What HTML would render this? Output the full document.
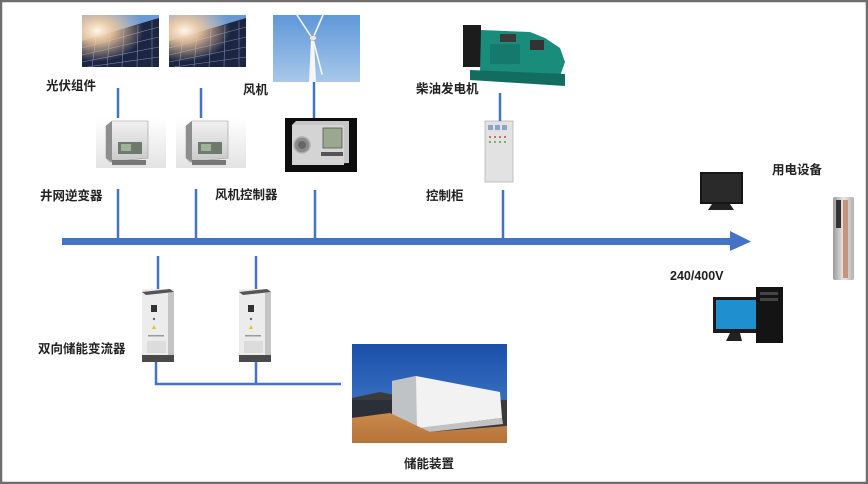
<!DOCTYPE html>
<html><head><meta charset="utf-8"><style>
html,body{margin:0;padding:0;background:#fff;}
#c{position:relative;width:868px;height:484px;overflow:hidden;background:#fff;}
svg text{font-family:"Liberation Sans","Noto Sans CJK SC",sans-serif;font-weight:bold;font-size:12.5px;fill:#222;}
</style></head><body><div id="c">
<svg width="868" height="484" viewBox="0 0 868 484" xmlns="http://www.w3.org/2000/svg">
<defs>
<radialGradient id="sun" cx="0.2" cy="0.3" r="0.6"><stop offset="0" stop-color="#fff6e6"/><stop offset="0.35" stop-color="#f0c9a0" stop-opacity="0.9"/><stop offset="1" stop-color="#f0c9a0" stop-opacity="0"/></radialGradient>
<linearGradient id="sky" x1="0" y1="0" x2="0" y2="1"><stop offset="0" stop-color="#5f97d8"/><stop offset="1" stop-color="#a8c8ea"/></linearGradient>
<linearGradient id="sky2" x1="0" y1="0" x2="0" y2="1"><stop offset="0" stop-color="#1b4fa8"/><stop offset="1" stop-color="#4a86d2"/></linearGradient>
<linearGradient id="ground" x1="0" y1="0" x2="0" y2="1"><stop offset="0" stop-color="#c98a4c"/><stop offset="1" stop-color="#b5733a"/></linearGradient>
<linearGradient id="inv" x1="0" y1="0" x2="0" y2="1"><stop offset="0" stop-color="#f2f2f2"/><stop offset="1" stop-color="#c8c8c8"/></linearGradient>
<linearGradient id="shadow" x1="0" y1="0" x2="0" y2="1"><stop offset="0" stop-color="#fff"/><stop offset="1" stop-color="#e3e3e3"/></linearGradient>
<linearGradient id="ac" x1="0" y1="0" x2="1" y2="0"><stop offset="0" stop-color="#9a9a9a"/><stop offset="0.5" stop-color="#e8e8e8"/><stop offset="1" stop-color="#b0b0b0"/></linearGradient>
<g id="solar">
<rect x="0" y="0" width="77" height="52" fill="#6a9ad6"/>
<polygon points="0,26 77,3 77,52 0,52" fill="#1c2643"/>
<g stroke="#8fa0c8" stroke-width="0.6" opacity="0.8">
<line x1="0" y1="33" x2="77" y2="12"/><line x1="0" y1="40" x2="77" y2="22"/><line x1="0" y1="47" x2="77" y2="32"/><line x1="5" y1="52" x2="77" y2="42"/>
<line x1="14" y1="22" x2="10" y2="52"/><line x1="28" y1="18" x2="25" y2="52"/><line x1="42" y1="14" x2="40" y2="52"/><line x1="56" y1="10" x2="55" y2="52"/><line x1="70" y1="6" x2="70" y2="52"/>
</g>
<rect x="0" y="0" width="77" height="52" fill="url(#sun)"/>
</g>
<g id="inverter">
<rect x="0" y="0" width="70" height="50" fill="url(#shadow)"/>
<polygon points="10,8 16,3 52,3 52,40 14,44 10,40" fill="url(#inv)" stroke="#9a9a9a" stroke-width="0.6"/>
<polygon points="10,8 16,3 16,44 10,40" fill="#8e8e8e"/>
<rect x="22" y="24" width="24" height="12" fill="#6e7a70"/>
<rect x="25" y="26" width="10" height="7" fill="#9fb59a"/>
<rect x="16" y="42" width="34" height="5" fill="#777"/>
</g>
<g id="pcs">
<rect x="0" y="0" width="32" height="73" fill="#ececec"/>
<polygon points="0,3 28,0 32,3 4,6" fill="#555"/>
<polygon points="26,4 32,3 32,66 26,70" fill="#c4c4c4"/>
<rect x="0" y="66" width="32" height="7" fill="#4a4a4a"/>
<rect x="9" y="16" width="6" height="7" fill="#333"/>
<circle cx="12" cy="30" r="1.2" fill="#666"/>
<polygon points="12,36 14,40 10,40" fill="#e8c020"/>
<rect x="6" y="46" width="16" height="1.5" fill="#999"/>
<rect x="5" y="52" width="19" height="12" fill="#dcdcdc"/>
</g>
</defs>

<!-- frame -->
<rect x="1" y="1" width="866" height="482" fill="none" stroke="#6e6e6e" stroke-width="2.5"/>

<!-- solar panels -->
<use href="#solar" x="82" y="15"/>
<use href="#solar" x="169" y="15"/>

<!-- wind turbine -->
<rect x="273" y="15" width="87" height="67" fill="url(#sky)"/>
<polygon points="311,39 314,39 316,82 309,82" fill="#f4f6f8"/>
<g stroke="#f4f6f8" stroke-width="1.6" stroke-linecap="round">
<line x1="312" y1="38" x2="297" y2="15"/>
<line x1="313" y1="38" x2="323" y2="15"/>
<line x1="313" y1="39" x2="322" y2="74"/>
</g>
<ellipse cx="313" cy="38" rx="3.5" ry="2.5" fill="#e8e8e8" stroke="#999" stroke-width="0.5"/>

<!-- inverters -->
<use href="#inverter" x="96" y="118"/>
<use href="#inverter" x="176" y="118"/>

<!-- wind controller -->
<rect x="285" y="118" width="72" height="54" fill="#0d0d0d"/>
<polygon points="292,125 296,121 349,121 349,163 292,165" fill="#c6c6c6"/>
<rect x="292" y="125" width="52" height="40" fill="#d4d4d4"/>
<circle cx="302" cy="145" r="8" fill="#8a8a8a" stroke="#b0b0b0" stroke-width="1.5"/>
<circle cx="302" cy="145" r="4" fill="#666"/>
<rect x="323" y="128" width="19" height="20" fill="#9aa890" stroke="#555" stroke-width="0.8"/>
<rect x="321" y="152" width="22" height="4" fill="#555"/>

<!-- generator -->
<rect x="463" y="25" width="18" height="42" fill="#1c1c1c"/>
<polygon points="481,30 530,32 545,38 560,48 565,62 560,76 480,72" fill="#1a8c7b"/>
<rect x="500" y="34" width="16" height="8" fill="#3a3a3a"/>
<rect x="530" y="40" width="14" height="10" fill="#333"/>
<polygon points="470,70 565,74 565,86 470,80" fill="#126d60"/>
<rect x="490" y="44" width="30" height="20" fill="#157a6c"/>

<!-- control cabinet -->
<rect x="485" y="121" width="28" height="61" fill="#e2e2e2" stroke="#b5b5b5" stroke-width="0.8"/>
<rect x="488" y="125" width="5" height="5" fill="#8aa3c8"/>
<rect x="495" y="125" width="5" height="5" fill="#8aa3c8"/>
<rect x="502" y="125" width="5" height="5" fill="#8aa3c8"/>
<g fill="#c44"><circle cx="490" cy="137" r="1"/><circle cx="495" cy="137" r="1"/><circle cx="500" cy="137" r="1"/><circle cx="505" cy="137" r="1"/></g>
<g fill="#4a4"><circle cx="490" cy="142" r="1"/><circle cx="495" cy="142" r="1"/><circle cx="500" cy="142" r="1"/><circle cx="505" cy="142" r="1"/></g>

<!-- TV -->
<rect x="700" y="172" width="43" height="32" fill="#161616"/>
<rect x="702" y="174" width="39" height="28" fill="#2a2a2a"/>
<polygon points="712,204 730,204 734,210 708,210" fill="#222"/>

<!-- AC unit -->
<rect x="833" y="197" width="21" height="83" rx="2" fill="url(#ac)"/>
<rect x="836" y="200" width="5" height="28" fill="#333"/>
<rect x="843" y="200" width="5" height="78" fill="#c89478"/>

<!-- computer -->
<rect x="713" y="297" width="46" height="36" fill="#1b1b1b"/>
<rect x="716" y="300" width="40" height="29" fill="#1f8fcf"/>
<polygon points="730,333 740,333 742,341 726,341" fill="#222"/>
<rect x="756" y="287" width="27" height="56" fill="#141414"/>
<rect x="760" y="292" width="18" height="3" fill="#444"/>
<rect x="760" y="298" width="18" height="3" fill="#444"/>

<!-- PCS cabinets -->
<use href="#pcs" x="142" y="289"/>
<use href="#pcs" x="239" y="289"/>

<!-- container -->
<rect x="352" y="344" width="155" height="99" fill="url(#sky2)"/>
<polygon points="352,398 380,392 400,396 507,400 507,443 352,443" fill="#3b3b3b"/>
<rect x="352" y="400" width="40" height="17" fill="#2b2f38"/>
<polygon points="392,381 416,376 500,392 502,418 420,428 392,417" fill="#f2f2f2"/>
<polygon points="392,381 416,376 417,428 392,418" fill="#bfc3c6"/>
<polygon points="417,428 502,418 503,424 420,433" fill="#c2c2c2"/>
<polygon points="352,418 390,413 430,432 507,426 507,443 352,443" fill="url(#ground)"/>

<!-- connectors -->
<g stroke="#4472C4" stroke-width="2.5" fill="none">
<line x1="118" y1="88" x2="118" y2="118"/>
<line x1="201" y1="88" x2="201" y2="118"/>
<line x1="314" y1="82" x2="314" y2="118"/>
<line x1="500" y1="93" x2="500" y2="121"/>
<line x1="118" y1="189" x2="118" y2="240"/>
<line x1="196" y1="189" x2="196" y2="240"/>
<line x1="315" y1="190" x2="315" y2="240"/>
<line x1="503" y1="190" x2="503" y2="240"/>
<line x1="158" y1="256" x2="158" y2="289"/>
<line x1="256" y1="256" x2="256" y2="289"/>
<polyline points="156,362 156,384 341,384"/>
<line x1="256" y1="362" x2="256" y2="384"/>
</g>
<rect x="62" y="238" width="669" height="7" fill="#4472C4"/>
<polygon points="730,231 751,241.5 730,251" fill="#4472C4"/>

<!-- labels -->
<text x="46" y="90">光伏组件</text>
<text x="243" y="94">风机</text>
<text x="40" y="200">井网逆变器</text>
<text x="215" y="199">风机控制器</text>
<text x="416" y="93">柴油发电机</text>
<text x="426" y="200">控制柜</text>
<text x="772" y="174">用电设备</text>
<text x="670" y="280">240/400V</text>
<text x="38" y="353">双向储能变流器</text>
<text x="404" y="468">储能装置</text>
</svg>
</div></body></html>
